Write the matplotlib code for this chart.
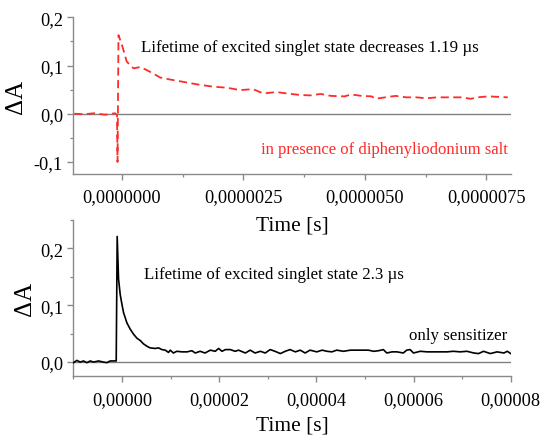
import matplotlib
matplotlib.use("Agg")
import matplotlib.pyplot as plt
from matplotlib.ticker import FixedLocator, MultipleLocator
import numpy as np

# ---- data (time in microseconds, converted to seconds for plotting) ----
top_time_us = [-0.98, -0.78, -0.56, -0.35, -0.14, -0.10, -0.09, -0.07, 0.00, 0.10,
               0.24, 0.38, 0.58, 0.79, 0.99, 1.27, 1.54, 1.88, 2.16, 2.43,
               2.70, 2.91, 3.18, 3.39, 3.66, 3.87, 4.09, 4.30, 4.58, 4.72,
               4.93, 5.14, 5.21, 5.42, 5.63, 5.85, 6.06, 6.27, 6.48, 6.69,
               6.97, 7.18, 7.32, 7.54, 7.94]
top_dA = [0.000, -0.001, 0.001, -0.002, 0.001, -0.003, -0.100, 0.163, 0.143, 0.108,
          0.094, 0.097, 0.087, 0.075, 0.071, 0.066, 0.061, 0.056, 0.054, 0.049,
          0.051, 0.042, 0.045, 0.042, 0.039, 0.038, 0.041, 0.037, 0.036, 0.040,
          0.037, 0.036, 0.031, 0.034, 0.037, 0.034, 0.034, 0.032, 0.034, 0.034,
          0.034, 0.031, 0.034, 0.036, 0.034]

bot_time_us = [-9.96, -9.26, -8.58, -7.90, -7.20, -6.52, -5.84, -4.81, -3.79, -3.09,
               -2.41, -1.52, -1.17, -0.97, -0.69, -0.35, 0.00, 0.34, 1.03, 1.71,
               2.40, 3.09, 3.77, 4.45, 5.14, 5.82, 6.85, 7.53, 8.23, 8.91,
               9.59, 9.94, 10.6, 11.3, 12.35, 13.4, 14.4, 15.1, 16.1, 17.1,
               18.2, 19.2, 19.9, 20.6, 21.3, 22.3, 23.3, 24.0, 25.4, 26.4,
               27.4, 28.5, 29.5, 30.5, 31.5, 32.6, 33.6, 34.6, 35.7, 36.7,
               37.7, 38.7, 40.1, 41.2, 42.2, 43.2, 44.2, 45.6, 47.0, 48.4,
               49.7, 50.7, 51.8, 52.8, 53.8, 54.5, 55.6, 56.6, 57.9, 58.6,
               59.3, 60.0, 61.4, 62.8, 64.1, 65.5, 66.9, 68.2, 69.6, 71.0,
               72.4, 73.4, 74.4, 75.8, 77.2, 78.6, 79.3, 80.0]
bot_dA = [-0.001, 0.003, 0.000, 0.002, -0.001, 0.002, 0.000, 0.002, 0.000, -0.001,
          0.002, 0.002, 0.002, 0.221, 0.146, 0.119, 0.102, 0.087, 0.069, 0.058,
          0.049, 0.042, 0.038, 0.032, 0.028, 0.025, 0.024, 0.025, 0.022, 0.021,
          0.017, 0.021, 0.016, 0.019, 0.018, 0.018, 0.020, 0.016, 0.019, 0.016,
          0.021, 0.019, 0.024, 0.019, 0.022, 0.022, 0.019, 0.021, 0.016, 0.021,
          0.016, 0.019, 0.016, 0.022, 0.019, 0.015, 0.019, 0.022, 0.018, 0.021,
          0.016, 0.021, 0.018, 0.021, 0.019, 0.018, 0.021, 0.019, 0.021, 0.021,
          0.021, 0.021, 0.019, 0.020, 0.022, 0.016, 0.018, 0.018, 0.016, 0.021,
          0.022, 0.016, 0.019, 0.018, 0.018, 0.018, 0.018, 0.019, 0.018, 0.019,
          0.016, 0.015, 0.019, 0.015, 0.018, 0.016, 0.019, 0.015]

top_xticks = [0.0, 2.5e-6, 5.0e-6, 7.5e-6]
top_xticklabels = ["0,0000000", "0,0000025", "0,0000050", "0,0000075"]
top_yticks = [-0.1, 0.0, 0.1, 0.2]
top_yticklabels = ["-0,1", "0,0", "0,1", "0,2"]
bot_xticks = [0.0, 2e-5, 4e-5, 6e-5, 8e-5]
bot_xticklabels = ["0,00000", "0,00002", "0,00004", "0,00006", "0,00008"]
bot_yticks = [0.0, 0.1, 0.2]
bot_yticklabels = ["0,0", "0,1", "0,2"]

top_note = "Lifetime of excited singlet state decreases 1.19 \u00b5s"
top_series = "in presence of diphenyliodonium salt"
bot_note = "Lifetime of excited singlet state 2.3 \u00b5s"
bot_series = "only sensitizer"

# ---- style ----
plt.rcParams["font.family"] = ["Liberation Serif", "DejaVu Serif"]
W, H = 542, 439
fig = plt.figure(figsize=(W / 100, H / 100), dpi=100)

def px(x0, y0, x1, y1):
    return [x0 / W, 1 - y1 / H, (x1 - x0) / W, (y1 - y0) / H]

ax1 = fig.add_axes(px(73.3, 18.3, 510.7, 175))
ax2 = fig.add_axes(px(73.3, 221, 510.7, 377.3))

spine_col = "#8a8a8a"
red = "#ff2a2a"

for ax in (ax1, ax2):
    ax.patch.set_visible(False)
    for s in ("top", "right"):
        ax.spines[s].set_visible(False)
    for s in ("left", "bottom"):
        ax.spines[s].set_color(spine_col)
        ax.spines[s].set_linewidth(1.0)
    ax.tick_params(which="major", direction="out", length=4, width=1.0,
                   color=spine_col, labelsize=13.2)
    ax.tick_params(axis="x", which="major", pad=6.5)
    ax.tick_params(axis="y", which="major", pad=3.5)
    ax.tick_params(which="minor", direction="out", length=2.5, width=0.9,
                   color=spine_col)
    ax.axhline(0, color="#808080", lw=1.0, zorder=1)

# top panel
ax1.plot(np.array(top_time_us) * 1e-6, top_dA, color=red, lw=1.3,
         linestyle=(0, (4.5, 2.5)), zorder=3)
ax1.set_xlim(-1e-6, 8e-6)
ax1.set_ylim(-0.125, 0.2)
ax1.xaxis.set_major_locator(FixedLocator(top_xticks))
ax1.set_xticklabels(top_xticklabels)
ax1.xaxis.set_minor_locator(MultipleLocator(1.25e-6))
ax1.yaxis.set_major_locator(FixedLocator(top_yticks))
ax1.set_yticklabels(top_yticklabels)
ax1.yaxis.set_minor_locator(MultipleLocator(0.05))
ax1.set_xlabel("Time [s]", fontsize=15.5)
ax1.set_ylabel("\u0394A", fontsize=18)
ax1.xaxis.set_label_coords(0.5, -0.265)
ax1.yaxis.set_label_coords(-0.105, 0.5)

# bottom panel
ax2.plot(np.array(bot_time_us) * 1e-6, bot_dA, color="black", lw=1.2, zorder=3)
ax2.set_xlim(-1e-5, 8e-5)
ax2.set_ylim(-0.025, 0.25)
ax2.xaxis.set_major_locator(FixedLocator(bot_xticks))
ax2.set_xticklabels(bot_xticklabels)
ax2.xaxis.set_minor_locator(MultipleLocator(1e-5))
ax2.yaxis.set_major_locator(FixedLocator(bot_yticks))
ax2.set_yticklabels(bot_yticklabels)
ax2.yaxis.set_minor_locator(MultipleLocator(0.05))
ax2.set_xlabel("Time [s]", fontsize=15.5)
ax2.set_ylabel("\u0394A", fontsize=18)
ax2.xaxis.set_label_coords(0.5, -0.25)
ax2.yaxis.set_label_coords(-0.086, 0.5)

# annotations (figure pixel positions)
fig.text(140.7 / W, 1 - 52 / H, top_note, fontsize=12.2, ha="left", va="baseline")
fig.text(508 / W, 1 - 154 / H, top_series, fontsize=12, color=red,
         ha="right", va="baseline")
fig.text(144 / W, 1 - 279.5 / H, bot_note, fontsize=12.2, ha="left", va="baseline")
fig.text(507 / W, 1 - 340.5 / H, bot_series, fontsize=12.2, ha="right", va="baseline")

fig.savefig("out.png", dpi=100)
